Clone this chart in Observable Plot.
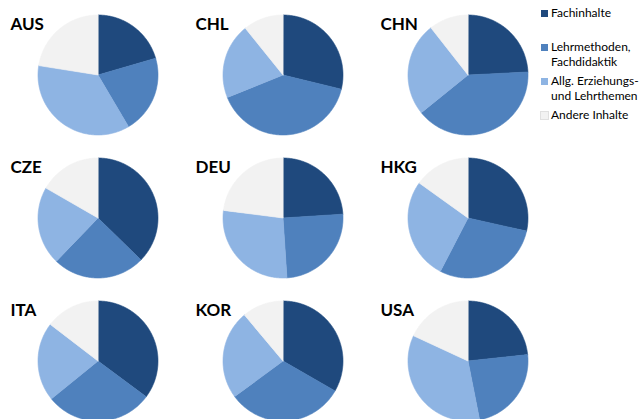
<!DOCTYPE html>
<html>
<head>
<meta charset="utf-8">
<script src="https://cdn.jsdelivr.net/npm/d3@7"></script>
<script src="https://cdn.jsdelivr.net/npm/@observablehq/plot@0.6"></script>
<style>
  html, body { margin: 0; padding: 0; background: #fff; overflow: hidden; }
  #wrap { position: relative; width: 639px; height: 419px; font-family: Lato, "Open Sans", sans-serif; }
  #legend { position: absolute; left: 541px; top: 0; width: 98px; }
  .item { position: absolute; left: 0; display: flex; align-items: flex-start; width: 98px; }
  .sw { width: 7px; height: 7px; margin-top: 5px; margin-right: 3px; flex: none; }
  .lab { font-size: 12px; line-height: 15px; color: #000; white-space: pre; }
</style>
</head>
<body>
<div id="wrap"><div id="chart"></div><div id="legend"></div></div>
<script>
// ---- data ----
const countries = ["AUS", "CHL", "CHN", "CZE", "DEU", "HKG", "ITA", "KOR", "USA"];
const categories = ["Fachinhalte", "Lehrmethoden, Fachdidaktik", "Allg. Erziehungs- und Lehrthemen", "Andere Inhalte"];
const legendLabels = ["Fachinhalte", "Lehrmethoden,\nFachdidaktik", "Allg. Erziehungs-\nund Lehrthemen", "Andere Inhalte"];
const colors = ["#1F497D", "#4F81BD", "#8EB4E3", "#F2F2F2"];
const fachinhalte  = [20.5, 28.8, 24.2, 37.3, 24.0, 28.5, 35.2, 33.3, 23.3];
const lehrmethoden = [21.0, 40.1, 40.0, 24.9, 25.0, 29.1, 29.0, 31.6, 23.6];
const allgemein    = [36.0, 20.3, 25.2, 21.1, 28.1, 27.3, 21.3, 24.0, 35.0];
const andere       = [22.5, 10.8, 10.6, 16.7, 23.0, 15.1, 14.6, 11.1, 18.1];

// ---- build wedge outlines from d3.pie angles (unit radius) ----
const series = [fachinhalte, lehrmethoden, allgemein, andere];
const pie = d3.pie().sort(null).value(d => d.value);
const points = [];
const labels = [];
countries.forEach((c, i) => {
  const col = i % 3, row = Math.floor(i / 3);
  labels.push({country: c, col, row});
  const arcs = pie(categories.map((cat, k) => ({category: cat, value: series[k][i]})));
  arcs.forEach(a => {
    const key = c + "|" + a.data.category;
    points.push({key, category: a.data.category, col, row, x: 0, y: 0});
    const n = Math.max(2, Math.ceil((a.endAngle - a.startAngle) / (Math.PI / 180)));
    for (let j = 0; j <= n; j++) {
      const t = a.startAngle + (a.endAngle - a.startAngle) * j / n;
      points.push({key, category: a.data.category, col, row, x: Math.sin(t), y: Math.cos(t)});
    }
  });
});

const R = 60; // pixel radius
const chart = Plot.plot({
  width: 639,
  height: 419,
  margin: 0,
  style: {background: "transparent", fontFamily: "Lato, 'Open Sans', sans-serif"},
  x: {domain: [-92.5 / R, 92.5 / R], axis: null},
  y: {domain: [-71.5 / R, 71.5 / R], axis: null},
  fx: {domain: [0, 1, 2], range: [4.5, 559.5], padding: 0, axis: null},
  fy: {domain: [0, 1, 2], range: [2.5, 431.5], padding: 0, axis: null},
  color: {domain: categories, range: colors},
  marks: [
    Plot.line(points, {
      x: "x", y: "y", z: "key", fx: "col", fy: "row",
      fill: "category", stroke: "category", strokeWidth: 0.6,
      strokeLinejoin: "round", curve: "linear-closed"
    }),
    Plot.text(labels, {
      text: "country", fx: "col", fy: "row",
      frameAnchor: "top-left", textAnchor: "start", lineAnchor: "bottom",
      dx: 5, dy: 26, fontSize: 17, fontWeight: "bold", fill: "#000"
    })
  ]
});
document.getElementById("chart").appendChild(chart);

// ---- legend ----
const legend = document.getElementById("legend");
categories.forEach((cat, k) => {
  const item = document.createElement("div");
  item.className = "item";
  item.style.top = (5 + k * 34) + "px";
  const sw = document.createElement("div");
  sw.className = "sw";
  sw.style.background = colors[k];
  if (k === 3) sw.style.outline = "0.5px solid #e0e0e0";
  const lab = document.createElement("div");
  lab.className = "lab";
  lab.textContent = legendLabels[k];
  item.appendChild(sw);
  item.appendChild(lab);
  legend.appendChild(item);
});
</script>
</body>
</html>
